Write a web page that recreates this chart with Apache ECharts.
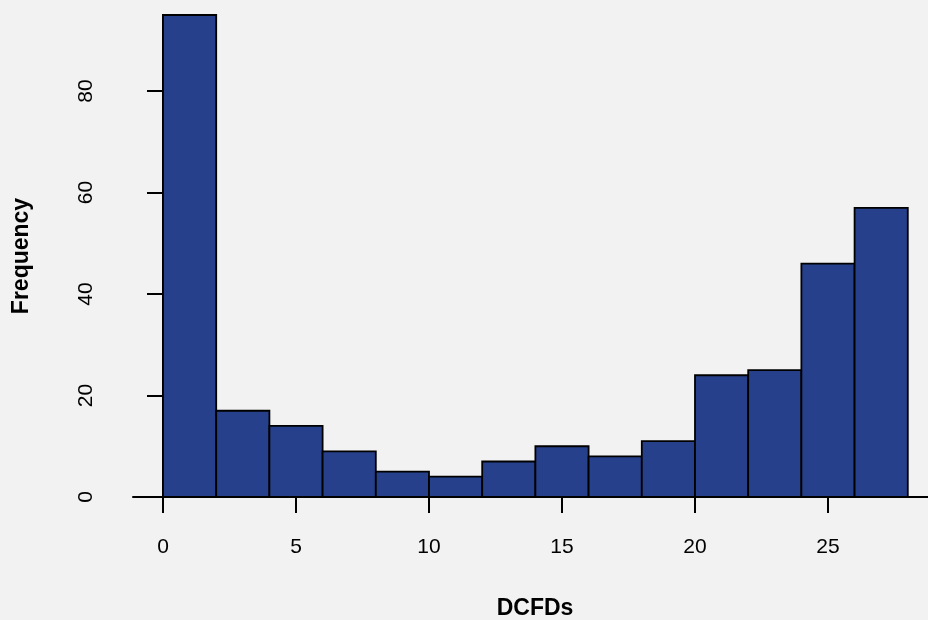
<!DOCTYPE html>
<html>
<head>
<meta charset="utf-8">
<script src="https://cdn.jsdelivr.net/npm/echarts@6/dist/echarts.min.js"></script>
<style>
  html, body { margin: 0; padding: 0; background: #f2f2f2; }
  #chart { width: 928px; height: 620px; }
</style>
</head>
<body>
<div id="chart"></div>
<script>
// histogram bins (width 2) and their counts
const binEdges = [0, 2, 4, 6, 8, 10, 12, 14, 16, 18, 20, 22, 24, 26, 28];
const counts = [95, 17, 14, 9, 5, 4, 7, 10, 8, 11, 24, 25, 46, 57];
const xTicks = [0, 5, 10, 15, 20, 25];
const yTicks = [0, 20, 40, 60, 80];

const barData = counts.map((c, i) => [binEdges[i], binEdges[i + 1], c]);

const chart = echarts.init(document.getElementById('chart'));
const font = 'Liberation Sans, Arial, sans-serif';

chart.setOption({
  backgroundColor: '#f2f2f2',
  animation: false,
  grid: { left: 133, right: 0, top: 15, bottom: 123, outerBoundsMode: 'none' },
  xAxis: {
    type: 'value',
    min: -1.128,
    max: 28.76,
    name: 'DCFDs',
    nameLocation: 'middle',
    nameGap: 100,
    nameTextStyle: { fontFamily: font, fontSize: 23, fontWeight: 'bold', color: '#000', padding: [0, 0, 0, 9] },
    axisLine: { show: true, onZero: false, lineStyle: { color: '#000', width: 2 } },
    axisTick: { show: true, length: 16, customValues: xTicks, lineStyle: { color: '#000', width: 2 } },
    axisLabel: { customValues: xTicks, margin: 40, fontFamily: font, fontSize: 21, color: '#000' },
    splitLine: { show: false }
  },
  yAxis: {
    type: 'value',
    min: 0,
    max: 95,
    name: 'Frequency',
    nameLocation: 'middle',
    nameGap: 100,
    nameRotate: 90,
    nameTextStyle: { fontFamily: font, fontSize: 23, fontWeight: 'bold', color: '#000' },
    axisLine: { show: true, lineStyle: { color: '#000', width: 2 } },
    axisTick: { show: true, length: 16, customValues: yTicks, lineStyle: { color: '#000', width: 2 } },
    axisLabel: { customValues: yTicks, margin: 36, rotate: 90, fontFamily: font, fontSize: 21, color: '#000' },
    splitLine: { show: false }
  },
  series: [{
    type: 'custom',
    data: barData,
    renderItem: function (params, api) {
      const p0 = api.coord([api.value(0), api.value(2)]);
      const p1 = api.coord([api.value(1), 0]);
      return {
        type: 'rect',
        shape: { x: p0[0], y: p0[1], width: p1[0] - p0[0], height: p1[1] - p0[1] },
        style: { fill: '#27408b', stroke: '#000', lineWidth: 1.8 }
      };
    },
    encode: { x: [0, 1], y: 2 }
  }]
});
</script>
</body>
</html>
